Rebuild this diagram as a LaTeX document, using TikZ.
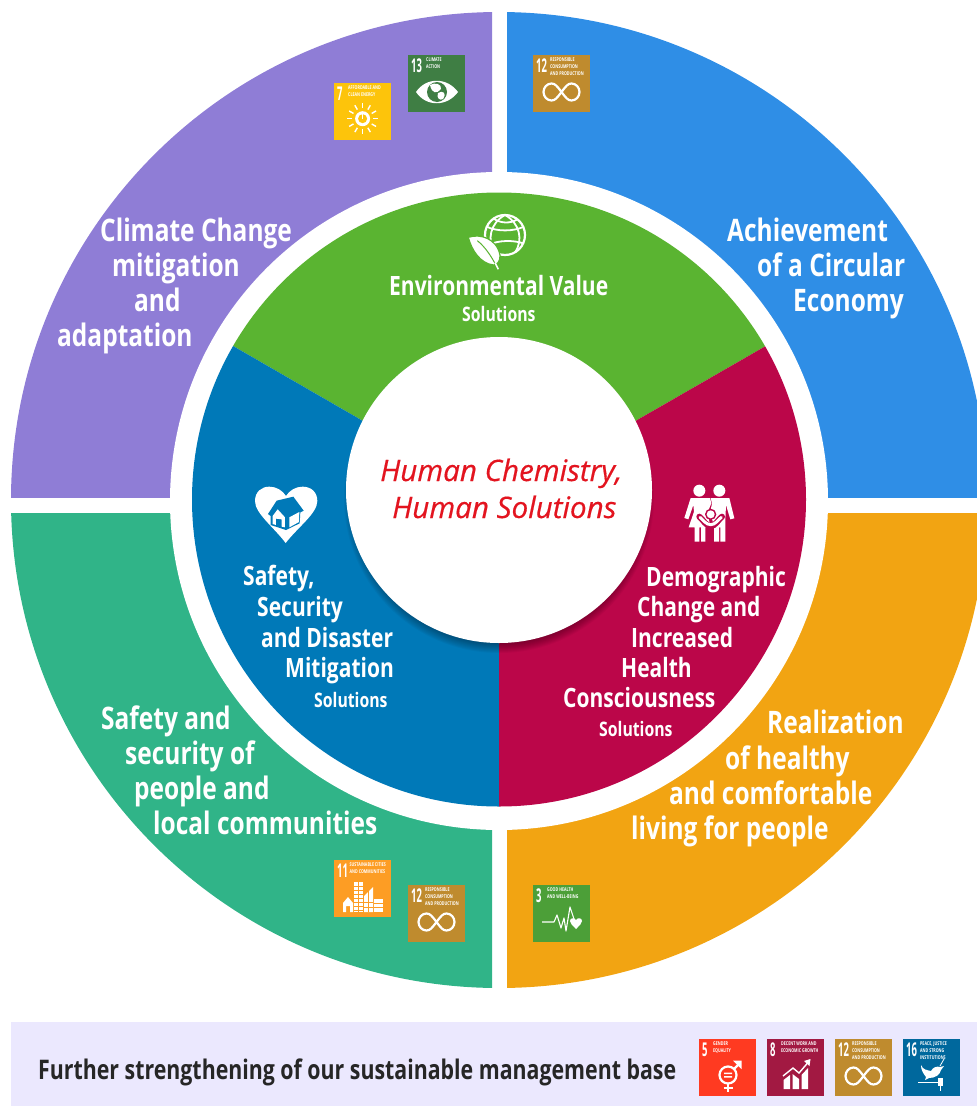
\documentclass[tikz,border=0pt]{standalone}
\usepackage{fontspec}
\setmainfont[FakeStretch=0.79]{Open Sans}
\newfontfamily\redf[FakeBold=0.5]{Open Sans}
\newfontfamily\numf[FakeStretch=0.5]{Open Sans}
\newfontfamily\tinyf[FakeStretch=0.7]{Open Sans}
\definecolor{cpurple}{HTML}{8F7DD6}
\definecolor{cblue}{HTML}{2F8EE6}
\definecolor{cteal}{HTML}{30B488}
\definecolor{corange}{HTML}{F2A412}
\definecolor{cgreen}{HTML}{5AB431}
\definecolor{cdblue}{HTML}{0079B8}
\definecolor{ccrim}{HTML}{BB0649}
\definecolor{cbar}{HTML}{EBE8FE}
\definecolor{cred}{HTML}{E3141F}
\definecolor{sdgseven}{HTML}{FDC40B}
\definecolor{sdgthirteen}{HTML}{3F7E44}
\definecolor{sdgtwelve}{HTML}{BF8B2E}
\definecolor{sdgeleven}{HTML}{FD9D24}
\definecolor{sdgthree}{HTML}{4C9F38}
\definecolor{sdgfive}{HTML}{FF3A21}
\definecolor{sdgeight}{HTML}{A21942}
\definecolor{sdgsixteen}{HTML}{00689D}
\tikzset{
  biglbl/.style={text=white,inner sep=0pt,anchor=base west,font=\fontsize{31}{34}\selectfont\bfseries},
  midlbl/.style={text=white,inner sep=0pt,anchor=base west,font=\fontsize{26.6}{30}\selectfont\bfseries},
  smalllbl/.style={text=white,inner sep=0pt,anchor=base west,font=\fontsize{20}{22}\selectfont\bfseries},
  redlbl/.style={text=cred,inner sep=0pt,anchor=base west,font=\fontsize{29.6}{32}\selectfont\redf\itshape},
  barlbl/.style={text=black!85,inner sep=0pt,anchor=base west,font=\fontsize{27}{30}\selectfont\bfseries},
  tilenum/.style={text=white,inner sep=0pt,anchor=base west,font=\fontsize{19}{19}\selectfont\numf\bfseries},
  tiletxt/.style={text=white,inner sep=0pt,anchor=north west,align=left,font=\fontsize{5.2}{6.6}\selectfont\tinyf\bfseries},
  icon/.style={draw=white,line width=2.2pt,fill=none},
  iconfill/.style={fill=white,draw=none},
}
\newcommand\sdgtile[8]{%
  \begin{scope}[shift={(#2,#3)}]
    \fill[#4] (0,0) rectangle (57,57);
    \node[tilenum] (#1num) at (3,17) {#5};
    \node[tiletxt] (#1txt) at (#6,3) {#7};
    #8
  \end{scope}}
\newcommand\iconinf{\draw[icon] (28.5,37) .. controls (24,31) and (22,28.5) .. (18.5,28.5) .. controls (14,28.5) and (10.5,32.5) .. (10.5,37) .. controls (10.5,41.5) and (14,45.5) .. (18.5,45.5) .. controls (22,45.5) and (24,43) .. (28.5,37) .. controls (33,31) and (35,28.5) .. (38.5,28.5) .. controls (43,28.5) and (46.5,32.5) .. (46.5,37) .. controls (46.5,41.5) and (43,45.5) .. (38.5,45.5) .. controls (35,45.5) and (33,43) .. (28.5,37);}
\begin{document}
\begin{tikzpicture}[x=1pt,y=-1pt]
\useasboundingbox (0,0) rectangle (977,1106);
\clip (0,0) rectangle (977,1106);
% outer quadrants
\begin{scope}\clip (0,0) rectangle (492,497); \fill[cpurple] (499,500) circle (488); \end{scope}
\begin{scope}\clip (507,0) rectangle (977,497); \fill[cblue] (499,500) circle (488); \end{scope}
\begin{scope}\clip (0,513) rectangle (492,1000); \fill[cteal] (499,500) circle (488); \end{scope}
\begin{scope}\clip (507,513) rectangle (977,1000); \fill[corange] (499,500) circle (488); \end{scope}
\fill[white] (499,501) circle (329);
% inner ring
\begin{scope}
  \clip (499,499.5) circle (307);
  \fill[cgreen] (499,499.5) -- (-100,153.7) -- (-100,-100) -- (1100,-100) -- (1100,153.7) -- cycle;
  \fill[cdblue] (499,499.5) -- (-100,153.7) -- (-100,1000) -- (499,1000) -- cycle;
  \fill[ccrim] (499,499.5) -- (1100,153.7) -- (1100,1000) -- (499,1000) -- cycle;
  \foreach \r in {145,146,...,155} {\fill[black,opacity=0.035] (499,498) circle (\r);}
\end{scope}
\fill[white] (499,490) circle (153);
% environment icon
\begin{scope}[shift={(440,200)},x=0.3333pt,y=-0.3333pt]
  \draw[white,line width=2.2pt] (195,105) circle (60);
  \draw[white,line width=1.8pt] (195,45) .. controls (150,70) and (140,120) .. (165,160);
  \draw[white,line width=1.8pt] (195,45) .. controls (240,70) and (250,120) .. (225,158);
  \draw[white,line width=1.8pt] (140,80) .. controls (170,95) and (220,95) .. (252,80);
  \draw[white,line width=1.8pt] (145,135) .. controls (175,120) and (220,120) .. (250,130);
  \draw[white,line width=1.8pt] (160,55) .. controls (180,70) and (210,72) .. (232,58);
  \fill[white,draw=cgreen,line width=1.2pt] (85,112) .. controls (120,100) and (170,115) .. (180,165) .. controls (182,185) and (170,195) .. (160,195) .. controls (120,190) and (95,150) .. (85,112) -- cycle;
  \draw[cgreen,line width=1pt] (112,122) .. controls (135,140) and (155,170) .. (170,200);
  \draw[white,line width=1.5pt] (165,188) -- (175,208);
\end{scope}
% heart icon
\begin{scope}[shift={(240,470)},x=0.3333pt,y=-0.3333pt]
  \fill[white] (137,219) .. controls (100,170) and (45,130) .. (45,93) .. controls (45,65) and (65,50) .. (88,50) .. controls (110,50) and (128,62) .. (138,78) .. controls (148,62) and (166,50) .. (188,50) .. controls (212,50) and (232,65) .. (232,93) .. controls (232,130) and (175,170) .. (137,219) -- cycle;
  \fill[cdblue] (84,132) -- (110,92) -- (160,80) -- (191,122) -- (181,127) -- (179,160) -- (138,180) -- (92,165) -- (92,138) -- cycle;
  \fill[white] (148,142) -- (178,126) -- (177,156) -- (148,172) -- cycle;
  \fill[white] (98,138) -- (113,118) -- (135,142) -- (135,172) -- (125,170) -- (125,148) -- (108,146) -- (108,165) -- (98,162) -- cycle;
\end{scope}
% family icon
\begin{scope}[shift={(670,470)},x=0.3333pt,y=-0.3333pt]
  \fill[white] (88,62) circle (18);
  \fill[white] (148,62) circle (18);
  \fill[white] (62,84) -- (120,84) -- (124,100) -- (112,128) -- (122,172) -- (106,172) -- (106,215) -- (93,215) -- (93,172) -- (88,172) -- (88,215) -- (74,215) -- (74,172) -- (56,172) -- (72,125) -- (70,105) -- (55,148) -- (43,144) -- cycle;
  \fill[white] (122,84) -- (178,84) -- (193,145) -- (181,148) -- (168,105) -- (166,150) -- (166,215) -- (151,215) -- (151,172) -- (147,172) -- (147,215) -- (132,215) -- (132,165) -- (120,130) -- (126,100) -- cycle;
  \fill[ccrim] (122,133) circle (17);
  \fill[white] (122,133) circle (12);
  \draw[ccrim,line width=6pt,line cap=round] (88,140) .. controls (100,150) and (108,168) .. (122,168) .. controls (136,168) and (144,150) .. (156,140);
  \draw[white,line width=3pt,line cap=round] (90,142) .. controls (100,150) and (108,164) .. (122,164) .. controls (136,164) and (144,150) .. (154,142);
\end{scope}
% labels
\node[biglbl] (c1) at (100,241) {Climate Change};
\node[biglbl] (c2) at (112,276) {mitigation};
\node[biglbl] (c3) at (134,311) {and};
\node[biglbl] (c4) at (57,346) {adaptation};
\node[biglbl] (a1) at (727,241) {Achievement};
\node[biglbl] (a2) at (757,276) {of a Circular};
\node[biglbl] (a3) at (793,311) {Economy};
\node[midlbl] (e1) at (389,295) {Environmental Value};
\node[smalllbl] (e2) at (462,321) {Solutions};
\node[midlbl] (d1) at (646,586) {Demographic};
\node[midlbl] (d2) at (637,616) {Change and};
\node[midlbl] (d3) at (631,647) {Increased};
\node[midlbl] (d4) at (621,677) {Health};
\node[midlbl] (d5) at (563,707) {Consciousness};
\node[smalllbl] (d6) at (599,736) {Solutions};
\node[midlbl] (s1) at (243,585) {Safety,};
\node[midlbl] (s2) at (257,616) {Security};
\node[midlbl] (s3) at (261,647) {and Disaster};
\node[midlbl] (s4) at (285,677) {Mitigation};
\node[smalllbl] (s5) at (314,707) {Solutions};
\node[biglbl] (p1) at (101,729) {Safety and};
\node[biglbl] (p2) at (125,764) {security of};
\node[biglbl] (p3) at (134,799) {people and};
\node[biglbl] (p4) at (153,834) {local communities};
\node[biglbl] (r1) at (767,733) {Realization};
\node[biglbl] (r2) at (725,769) {of healthy};
\node[biglbl] (r3) at (669,804) {and comfortable};
\node[biglbl] (r4) at (631,839) {living for people};
\node[redlbl] (h1) at (380,481) {Human Chemistry,};
\node[redlbl] (h2) at (392,518) {Human Solutions};
% bar
\fill[cbar] (11,1022) rectangle (977,1106);
\node[barlbl] (b1) at (38,1079) {Further strengthening of our sustainable management base};
% tiles
\sdgtile{t7}{334}{83}{sdgseven}{7}{14}{AFFORDABLE AND\\CLEAN ENERGY}{%
  \foreach \a in {0,30,...,330} {\draw[white,line width=1.4pt] (28.6,35.7) ++(\a:10.5) -- ++(\a:5);}
  \fill[white] (28.6,35.7) circle (7.5);
  \fill[sdgseven] (28.6,35.7) circle (4.5);
  \draw[white,line width=1.5pt] (28.6,31) -- (28.6,36);}
\sdgtile{t13}{408}{55}{sdgthirteen}{13}{18}{CLIMATE\\ACTION}{%
  \fill[white] (8,37) .. controls (18,22) and (39,22) .. (50,37) .. controls (39,52) and (18,52) .. (8,37) -- cycle;
  \fill[sdgthirteen] (29,37) circle (10);
  \fill[white] (22,30) .. controls (27,27) and (34,29) .. (33,34) .. controls (29,39) and (24,39) .. (22,30) -- cycle;
  \fill[white] (30,38) .. controls (35,35) and (39,38) .. (35,44) .. controls (32,46) and (28,43) .. (30,38) -- cycle;}
\sdgtile{t12a}{533}{55}{sdgtwelve}{12}{17}{RESPONSIBLE\\CONSUMPTION\\AND PRODUCTION}{\iconinf}
\sdgtile{t11}{334}{860}{sdgeleven}{11}{15.5}{SUSTAINABLE CITIES\\AND COMMUNITIES}{%
  \fill[white] (9,43) -- (14,37) -- (19,43) -- (19,52) -- (16,52) -- (16,46) -- (12,46) -- (12,52) -- (9,52) -- cycle;
  \fill[white] (20,22) rectangle (29,52);
  \fill[white] (30,36) -- (39,27) -- (39,52) -- (30,52) -- cycle;
  \fill[white] (40,39) rectangle (49,52);
  \foreach \yy in {26,30,...,50} {\draw[sdgeleven,line width=0.6pt] (20,\yy) -- (29,\yy);}
  \draw[sdgeleven,line width=0.6pt] (24.5,22) -- (24.5,52) (34.5,30) -- (34.5,52) (30,42) -- (39,42) (30,47) -- (39,47) (40,43) -- (49,43) (40,47) -- (49,47);}
\sdgtile{t12b}{408}{885}{sdgtwelve}{12}{17}{RESPONSIBLE\\CONSUMPTION\\AND PRODUCTION}{\iconinf}
\sdgtile{t3}{533}{885}{sdgthree}{3}{14}{GOOD HEALTH\\AND WELL-BEING}{%
  \draw[white,line width=1.1pt,line join=round] (9,37) -- (21,37) -- (24,30) -- (28,43) -- (31,33) -- (33,46) -- (37,22) -- (42,37);
  \fill[white] (43,44) .. controls (39,40) and (37,38) .. (37,36) .. controls (37,33) and (41,32) .. (43,35) .. controls (45,32) and (49,33) .. (49,36) .. controls (49,38) and (47,40) .. (43,44) -- cycle;}
\sdgtile{t5}{699}{1039}{sdgfive}{5}{14}{GENDER\\EQUALITY}{%
  \draw[icon] (29,36) circle (8.5);
  \draw[icon] (35,30) -- (41,24);
  \fill[white] (34,21.5) -- (42.5,21.5) -- (42.5,30) -- cycle;
  \draw[icon] (29,44.5) -- (29,53) (24.5,49) -- (33.5,49);
  \fill[white] (25,33.5) rectangle (33,35.2) (25,37) rectangle (33,38.7);}
\sdgtile{t8}{767}{1039}{sdgeight}{8}{14}{DECENT WORK AND\\ECONOMIC GROWTH}{%
  \fill[white] (16.5,41) -- (23,36) -- (23,50) -- (16.5,50) -- cycle;
  \fill[white] (25.5,35) -- (32,40) -- (32,50) -- (25.5,50) -- cycle;
  \fill[white] (34.5,36) -- (41,29) -- (41,50) -- (34.5,50) -- cycle;
  \draw[white,line width=1.4pt] (16,37) -- (26,29) -- (32,34) -- (41,23.5);
  \fill[white] (37,22) -- (43.5,20) -- (42.5,27) -- cycle;}
\sdgtile{t12c}{835}{1039}{sdgtwelve}{12}{17}{RESPONSIBLE\\CONSUMPTION\\AND PRODUCTION}{\iconinf}
\sdgtile{t16}{903}{1039}{sdgsixteen}{16}{17}{PEACE, JUSTICE\\AND STRONG\\INSTITUTIONS}{%
  \fill[white] (18,26) .. controls (20,31) and (24,31) .. (28,32) .. controls (30,28) and (34,27) .. (37,28) -- (41,27) -- (38,31) .. controls (37,36) and (32,39) .. (26,39) -- (22,41) -- (23,38) .. controls (20,34) and (18,31) .. (18,26) -- cycle;
  \draw[white,line width=0.8pt] (37,27) -- (41,20);
  \draw[white,line width=1pt] (15,43) -- (35,43);
  \fill[white] (35,39) rectangle (40,47);
  \draw[white,line width=1.3pt] (37.5,47) -- (37.5,52);}
\end{tikzpicture}
\end{document}
